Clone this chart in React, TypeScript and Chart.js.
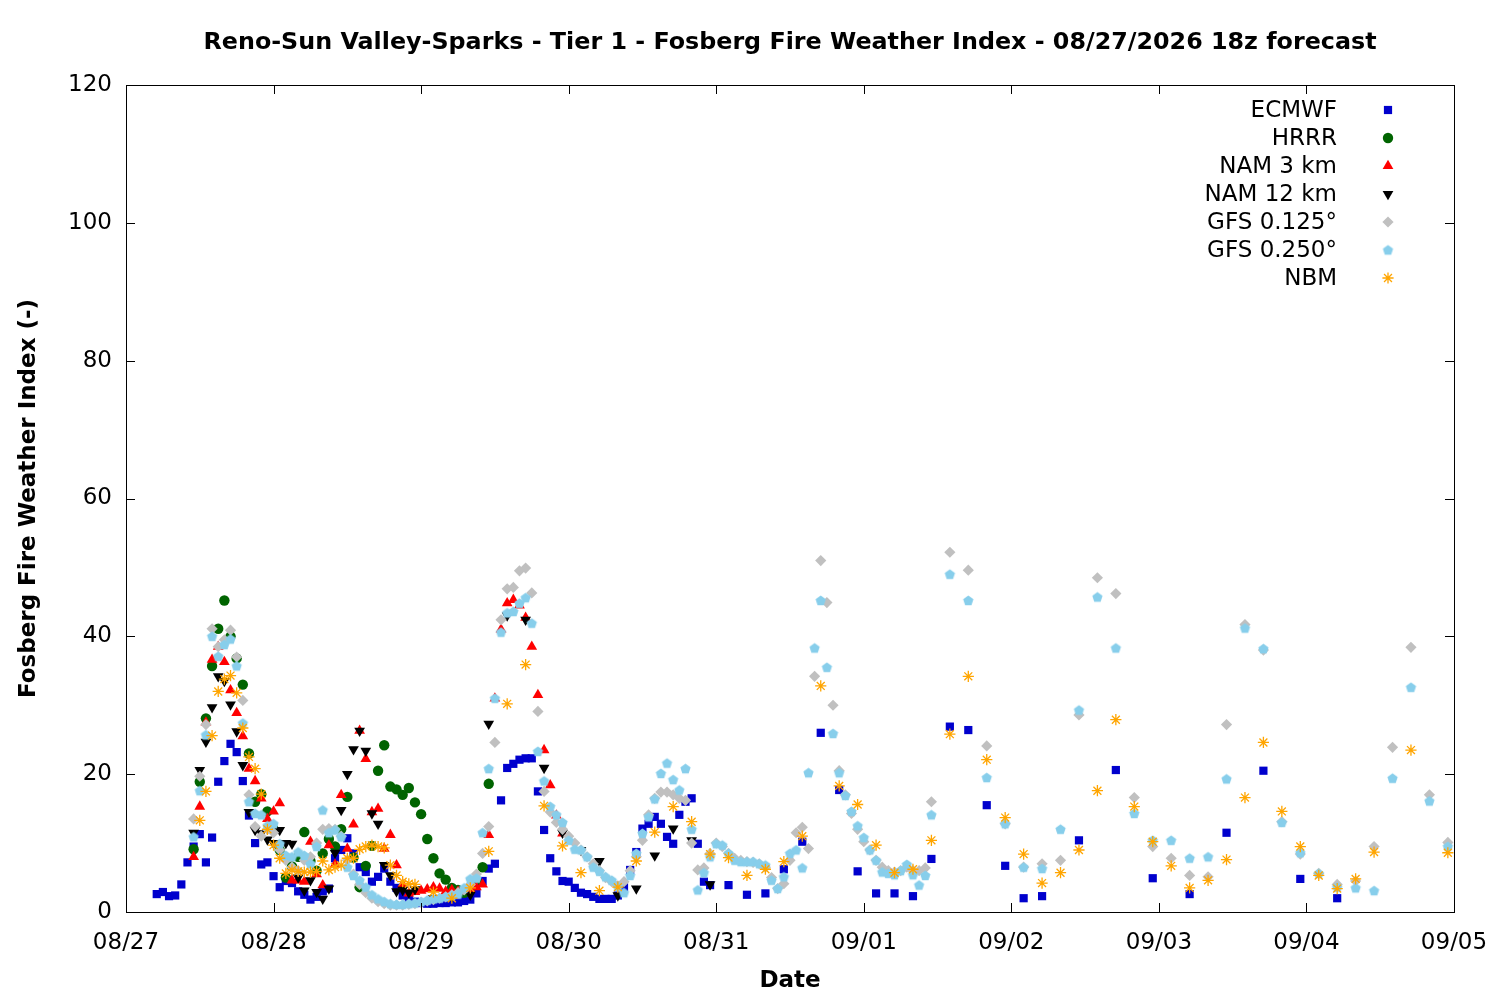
import React, { useEffect, useRef } from 'react';
import { Chart, registerables } from 'chart.js';
import { drawPoint } from 'chart.js/helpers';

Chart.register(...registerables);

// x axis is hours after 08/27 00 (local), one tick label per day
const dateLabels = ['08/27', '08/28', '08/29', '08/30', '08/31', '09/01', '09/02', '09/03', '09/04', '09/05'];
const yTicks = [0, 20, 40, 60, 80, 100, 120];

const chartTitle = 'Reno-Sun Valley-Sparks - Tier 1 - Fosberg Fire Weather Index - 08/27/2026 18z forecast';

// forecast output times (hours) for each model
const hourRange = (start: number, end: number, step: number) => {
  const out: number[] = [];
  for (let h = start; h <= end; h += step) out.push(h);
  return out;
};

const ecmwfHours = [...hourRange(5, 95, 1), ...hourRange(98, 149, 3), ...hourRange(155, 197, 6)];
const ecmwfValues = [
  2.6, 2.9, 2.3, 2.4, 4.0, 7.2, 9.5, 11.3, 7.2, 10.8,
  18.9, 21.9, 24.4, 23.2, 19.0, 14.0, 10.0, 6.9, 7.2, 5.2,
  3.6, 4.5, 4.2, 3.0, 2.5, 1.8, 2.2, 3.0, 3.4, 7.8,
  9.0, 10.7, 8.5, 6.5, 5.8, 4.4, 5.1, 6.3, 4.4, 3.5,
  2.4, 1.8, 1.5, 1.3, 1.2, 1.2, 1.3, 1.3, 1.4, 1.4,
  1.6, 1.8, 2.7, 4.5, 6.3, 7.0, 16.2, 20.9, 21.5, 22.1,
  22.3, 22.3, 17.5, 11.9, 7.8, 5.9, 4.5, 4.4, 3.5, 2.8,
  2.6, 2.2, 1.9, 1.9, 1.9, 2.4, 3.6, 6.1, 8.7, 12.1,
  12.8, 13.8, 12.8, 10.9, 9.9, 14.1, 16.0, 16.5, 9.9, 4.4,
  3.9,
  3.9, 2.5, 2.7, 6.2, 10.2, 26.0, 17.7, 5.9, 2.7, 2.7,
  2.3, 7.7, 26.9, 26.4, 15.5, 6.7, 2.0, 2.3,
  10.4, 20.6, 4.9, 2.6, 11.5, 20.5, 4.8, 2.0,
];

const hrrrHours = hourRange(11, 59, 1);
const hrrrValues = [
  9.1, 18.9, 28.1, 35.7, 41.1, 45.2, 40.0, 36.8, 33.0, 23.0,
  16.0, 17.1, 14.6, 12.0, 9.0, 5.0, 6.6, 8.0, 11.6, 7.4,
  6.0, 8.5, 10.6, 9.5, 12.0, 16.7, 7.9, 3.6, 6.7, 9.6,
  20.5, 24.2, 18.2, 17.8, 17.0, 18.0, 15.9, 14.2, 10.6, 7.8,
  5.6, 4.7, 3.5, 3.2, 2.8, 3.6, 4.5, 6.5, 18.6,
];

const nam3Hours = hourRange(11, 71, 1);
const nam3Values = [
  8.0, 15.3, 27.5, 36.6, 38.5, 36.3, 32.2, 28.9, 25.5, 20.8,
  19.0, 16.5, 13.5, 14.6, 15.8, 7.8, 4.6, 4.6, 4.4, 10.2,
  5.5, 3.9, 9.7, 6.9, 17.0, 9.2, 12.7, 26.3, 22.2, 14.5,
  15.0, 9.2, 11.2, 6.8, 4.0, 2.7, 2.9, 3.1, 3.3, 3.6,
  3.4, 3.0, 3.2, 3.0, 3.1, 3.3, 3.6, 4.0, 11.2, 31.0,
  41.0, 44.8, 45.3, 44.5, 42.7, 38.5, 31.5, 23.5, 18.4, 14.0,
  11.4,
];

const nam12Hours = [...hourRange(11, 47, 1), ...hourRange(50, 95, 3)];
const nam12Values = [
  11.5, 20.6, 24.7, 29.7, 34.2, 33.5, 30.1, 26.2, 21.3, 14.5,
  11.9, 11.4, 10.5, 10.0, 11.9, 10.0, 9.9, 5.0, 3.1, 4.6,
  2.9, 1.9, 3.4, 8.6, 14.8, 20.0, 23.6, 26.3, 23.4, 14.3,
  12.8, 6.8, 5.3, 3.0, 3.2, 2.8, 3.3,
  2.0, 2.2, 2.5, 27.3, 43.0, 42.4, 20.9, 11.5, 9.0, 7.4,
  2.4, 3.4, 8.2, 12.1, 10.4, 4.0,
];

const gfs125Hours = [...hourRange(11, 131, 1), ...hourRange(134, 215, 3)];
const gfs125Values = [
  13.5, 19.7, 27.2, 41.1, 38.5, 39.5, 40.9, 37.0, 30.7, 17.0,
  12.4, 11.0, 12.0, 11.5, 9.0, 7.5, 6.5, 6.0, 7.5, 8.0,
  10.0, 12.0, 12.1, 12.0, 11.0, 7.5, 5.5, 4.0, 2.8, 2.0,
  1.5, 1.2, 1.0, 1.0, 1.0, 1.1, 1.2, 1.4, 1.6, 1.8,
  2.0, 2.2, 2.5, 2.8, 3.2, 4.0, 5.5, 8.5, 12.4, 24.6,
  42.4, 46.9, 47.1, 49.5, 49.9, 46.3, 29.1, 17.5, 14.5, 13.0,
  12.0, 11.0, 10.0, 9.0, 8.0, 7.0, 6.0, 5.0, 4.4, 3.8,
  4.4, 6.0, 8.0, 10.4, 14.1, 16.5, 17.4, 17.4, 17.0, 16.5,
  16.2, 10.0, 6.1, 6.4, 8.5, 10.0, 9.5, 8.5, 7.8, 7.5,
  7.3, 7.2, 7.0, 6.5, 5.0, 3.4, 4.1, 7.5, 11.5, 12.3,
  9.2, 34.2, 51.0, 44.9, 30.0, 20.5, 17.0, 14.3, 12.0, 10.2,
  9.0, 7.5, 6.5, 6.0, 5.8, 6.0, 6.5, 6.0, 6.0, 6.4,
  16.0,
  52.2, 49.6, 24.1, 12.8, 6.5, 7.0, 7.5, 28.6, 48.5, 46.2,
  16.6, 9.5, 7.8, 5.3, 5.1, 27.2, 41.7, 38.0, 13.1, 8.4,
  5.6, 4.0, 4.5, 9.5, 23.9, 38.4, 17.0, 10.1,
];

const gfs250Hours = [...hourRange(11, 131, 1), ...hourRange(134, 215, 3)];
const gfs250Values = [
  10.9, 17.6, 25.7, 40.0, 37.1, 38.8, 39.6, 35.7, 27.4, 16.0,
  14.3, 14.1, 12.5, 12.8, 9.9, 8.2, 8.0, 8.7, 8.2, 7.0,
  9.5, 14.8, 11.5, 11.9, 10.9, 6.5, 5.3, 4.6, 3.6, 2.5,
  1.9, 1.5, 1.2, 1.1, 1.1, 1.2, 1.3, 1.5, 1.7, 1.9,
  2.0, 2.2, 2.4, 2.6, 3.5, 4.8, 4.9, 11.5, 20.8, 31.0,
  40.6, 43.4, 43.6, 44.8, 45.6, 41.9, 23.3, 19.0, 15.3, 14.1,
  13.0, 10.4, 9.1, 9.0, 8.0, 6.5, 5.9, 5.1, 4.6, 3.7,
  2.8, 5.3, 8.5, 11.4, 13.8, 16.4, 20.1, 21.6, 19.2, 17.7,
  20.8, 12.0, 3.2, 5.7, 8.0, 9.9, 9.7, 8.5, 7.5, 7.3,
  7.3, 7.3, 7.0, 6.8, 4.6, 3.4, 5.1, 8.5, 9.0, 6.4,
  20.2, 38.3, 45.2, 35.5, 25.9, 20.2, 16.9, 14.6, 12.5, 10.8,
  9.0, 7.5, 5.8, 5.6, 5.4, 6.0, 6.9, 5.4, 3.9, 5.3,
  14.1,
  49.0, 45.2, 19.5, 12.8, 6.5, 6.3, 12.0, 29.3, 45.7, 38.3,
  14.3, 10.4, 10.4, 7.8, 8.0, 19.3, 41.2, 38.2, 13.0, 8.6,
  5.6, 3.6, 3.5, 3.1, 19.4, 32.6, 16.1, 9.5,
];

const nbmHours = [...hourRange(12, 47, 1), ...hourRange(50, 203, 3), 209, 215];
const nbmValues = [
  13.3, 17.5, 25.6, 32.0, 33.8, 34.3, 31.8, 26.7, 22.5, 20.8,
  17.1, 12.0, 9.7, 7.8, 5.6, 6.1, 5.9, 5.8, 5.8, 5.9,
  7.4, 6.1, 6.5, 6.8, 7.8, 7.8, 9.1, 9.5, 9.7, 9.5,
  9.3, 6.8, 5.3, 4.4, 4.1, 4.0,
  2.9, 2.0, 3.5, 8.8, 30.2, 35.9, 15.4, 9.6, 5.7, 3.1,
  3.6, 7.4, 11.6, 15.3, 13.1, 8.4, 7.9, 5.3, 6.2, 7.3,
  11.0, 32.8, 18.3, 15.6, 9.7, 5.7, 6.2, 10.4, 25.8, 34.2,
  22.1, 13.7, 8.4, 4.2, 5.7, 9.0, 17.6, 27.9, 15.3, 10.2,
  6.7, 3.5, 4.6, 7.6, 16.6, 24.6, 14.6, 9.5, 5.3, 3.4,
  4.8, 8.7,
  23.5, 8.6,
];

const FONT = 'DejaVu Sans';

// gnuplot-like pentagon marker for GFS 0.250
function makePentagon(color: string, r: number) {
  const size = Math.ceil(r * 2 + 2);
  const c = document.createElement('canvas');
  c.width = size;
  c.height = size;
  const ctx = c.getContext('2d')!;
  ctx.fillStyle = color;
  ctx.beginPath();
  for (let i = 0; i < 5; i++) {
    const a = -Math.PI / 2 + (i * 2 * Math.PI) / 5;
    const px = size / 2 + r * Math.cos(a);
    const py = size / 2 + 0.5 + r * Math.sin(a);
    if (i === 0) ctx.moveTo(px, py);
    else ctx.lineTo(px, py);
  }
  ctx.closePath();
  ctx.fill();
  return c;
}

const toPoints = (hours: number[], values: number[]) => hours.map((h, i) => ({ x: h, y: values[i] }));

// border, inward ticks, title and in-plot legend like gnuplot
const framePlugin = {
  id: 'gnuplotFrame',
  afterDraw(chart: any) {
    const { ctx, chartArea } = chart;
    const { left, right, top, bottom } = chartArea;
    const xs = chart.scales.x;
    const ys = chart.scales.y;
    ctx.save();
    ctx.strokeStyle = '#000';
    ctx.lineWidth = 1;
    ctx.strokeRect(left + 0.5, top + 0.5, right - left, bottom - top);
    const tl = 9;
    ctx.beginPath();
    ys.ticks.forEach((t: any) => {
      const y = Math.round(ys.getPixelForValue(t.value)) + 0.5;
      ctx.moveTo(left, y);
      ctx.lineTo(left + tl, y);
      ctx.moveTo(right, y);
      ctx.lineTo(right - tl, y);
    });
    xs.ticks.forEach((t: any) => {
      const x = Math.round(xs.getPixelForValue(t.value)) + 0.5;
      ctx.moveTo(x, bottom);
      ctx.lineTo(x, bottom - tl);
      ctx.moveTo(x, top);
      ctx.lineTo(x, top + tl);
    });
    ctx.stroke();

    ctx.fillStyle = '#000';
    ctx.font = `bold 23.8px "${FONT}"`;
    ctx.textAlign = 'center';
    ctx.textBaseline = 'middle';
    ctx.fillText(chartTitle, (left + right) / 2, 43);

    ctx.font = `23px "${FONT}"`;
    ctx.textAlign = 'right';
    chart.data.datasets.forEach((ds: any, i: number) => {
      const y = top + 25 + i * 28;
      ctx.fillStyle = '#000';
      ctx.fillText(ds.label, right - 117, y + 1);
      ctx.fillStyle = ds.pointBackgroundColor;
      ctx.strokeStyle = ds.pointBorderColor;
      ctx.lineWidth = ds.pointBorderWidth;
      drawPoint(ctx, {
        pointStyle: ds.pointStyle,
        rotation: ds.pointRotation || 0,
        radius: ds.pointRadius,
        borderWidth: ds.pointBorderWidth,
      }, right - 66, y);
    });
    ctx.restore();
  },
};

const App: React.FC = () => {
  const canvasRef = useRef<HTMLCanvasElement>(null);

  useEffect(() => {
    if (!canvasRef.current) return;
    const pentagon = makePentagon('#87ceeb', 5.4);

    const marker = (color: string, style: any, radius: number, order: number, rotation = 0) => ({
      pointStyle: style,
      pointRadius: radius,
      pointHoverRadius: radius,
      pointRotation: rotation,
      pointBackgroundColor: color,
      pointBorderColor: color,
      pointBorderWidth: style === 'star' ? 1.3 : 0,
      showLine: false,
      order,
    });

    const chart = new Chart(canvasRef.current, {
      type: 'scatter',
      data: {
        datasets: [
          { label: 'ECMWF', data: toPoints(ecmwfHours, ecmwfValues), ...marker('#0000cd', 'rect', 5.8, 7) },
          { label: 'HRRR', data: toPoints(hrrrHours, hrrrValues), ...marker('#006400', 'circle', 5.2, 6) },
          { label: 'NAM 3 km', data: toPoints(nam3Hours, nam3Values), ...marker('#ff0000', 'triangle', 6.2, 5) },
          { label: 'NAM 12 km', data: toPoints(nam12Hours, nam12Values), ...marker('#000000', 'triangle', 6.2, 4, 180) },
          { label: 'GFS 0.125°', data: toPoints(gfs125Hours, gfs125Values), ...marker('#c0c0c0', 'rectRot', 5.6, 3) },
          { label: 'GFS 0.250°', data: toPoints(gfs250Hours, gfs250Values), ...marker('#87ceeb', pentagon, 5.4, 2) },
          { label: 'NBM', data: toPoints(nbmHours, nbmValues), ...marker('#ffa500', 'star', 5.6, 1) },
        ],
      },
      options: {
        responsive: false,
        animation: false,
        layout: { padding: { top: 85, right: 46, left: 0, bottom: 0 } },
        plugins: {
          legend: { display: false },
          title: { display: false },
          tooltip: { enabled: false },
        },
        scales: {
          x: {
            type: 'linear',
            min: 0,
            max: 216,
            grid: { display: false, drawTicks: false },
            border: { display: false },
            ticks: {
              stepSize: 24,
              autoSkip: false,
              maxRotation: 0,
              padding: 17,
              color: '#000',
              font: { family: FONT, size: 23 },
              callback: (v: any) => dateLabels[Math.round(Number(v) / 24)] ?? '',
            },
            title: {
              display: true,
              text: 'Date',
              color: '#000',
              font: { family: FONT, size: 23, weight: 'bold' },
              padding: { top: 0, bottom: 5 },
            },
            afterFit: (scale: any) => {
              scale.height = 88;
              scale.paddingLeft = 0;
              scale.paddingRight = 0;
            },
          },
          y: {
            min: yTicks[0],
            max: yTicks[yTicks.length - 1],
            grid: { display: false, drawTicks: false },
            border: { display: false },
            ticks: {
              stepSize: 20,
              padding: 14,
              color: '#000',
              font: { family: FONT, size: 23 },
            },
            title: {
              display: true,
              text: 'Fosberg Fire Weather Index (-)',
              color: '#000',
              font: { family: FONT, size: 23, weight: 'bold' },
              padding: { top: 15, bottom: 0 },
            },
            afterFit: (scale: any) => { scale.width = 126; },
          },
        },
      },
      plugins: [framePlugin],
    });

    return () => {
      chart.destroy();
    };
  }, []);

  return (
    <div style={{ position: 'absolute', left: 0, top: 0, width: 1500, height: 1000, background: '#fff' }}>
      <canvas ref={canvasRef} width={1500} height={1000} />
    </div>
  );
};

export default App;
